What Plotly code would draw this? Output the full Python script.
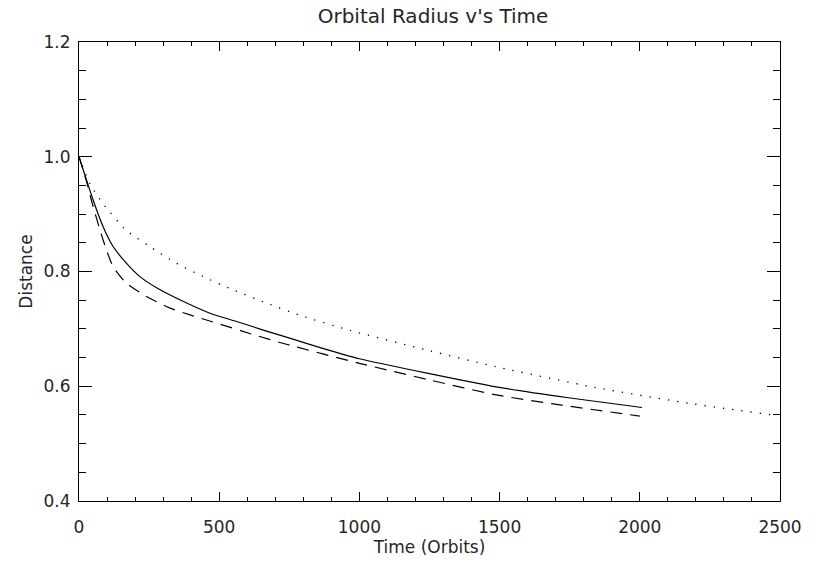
import plotly.graph_objects as go

# Solid curve
t_solid = [0, 25, 50, 86, 121, 168, 215, 286, 380, 474, 568, 663, 757, 863, 1000, 1250, 1487, 1745, 2008]
d_solid = [1.0, 0.962, 0.925, 0.878, 0.844, 0.815, 0.792, 0.769, 0.746, 0.726, 0.712, 0.697, 0.683, 0.667, 0.648, 0.622, 0.599, 0.580, 0.563]

# Dashed curve
t_dash = [0, 25, 51, 86, 121, 168, 239, 321, 404, 498, 615, 733, 1000, 1250, 1487, 1722, 2000]
d_dash = [1.0, 0.960, 0.912, 0.855, 0.809, 0.780, 0.757, 0.737, 0.723, 0.709, 0.691, 0.674, 0.640, 0.611, 0.585, 0.567, 0.548]

# Dotted curve
t_dot = [0, 39, 86, 168, 251, 345, 439, 545, 663, 792, 969, 1250, 1487, 1840, 2193, 2487]
d_dot = [1.0, 0.953, 0.918, 0.872, 0.844, 0.815, 0.792, 0.769, 0.746, 0.723, 0.697, 0.662, 0.634, 0.598, 0.569, 0.549]

x_ticks = [0, 500, 1000, 1500, 2000, 2500]
y_ticks = [0.4, 0.6, 0.8, 1.0, 1.2]

FONT = "DejaVu Sans"
TXT = "#262626"

fig = go.Figure()
fig.add_trace(go.Scatter(x=t_dot, y=d_dot, mode="lines", line=dict(color="black", width=1.3, dash="1.3px,8px", shape="spline", smoothing=0.6), showlegend=False))
fig.add_trace(go.Scatter(x=t_dash, y=d_dash, mode="lines", line=dict(color="black", width=1.2, dash="12px,8px", shape="spline", smoothing=0.6), showlegend=False))
fig.add_trace(go.Scatter(x=t_solid, y=d_solid, mode="lines", line=dict(color="black", width=1.2, shape="spline", smoothing=0.6), showlegend=False))

fig.update_layout(
    width=814, height=562,
    margin=dict(l=79, r=27, t=42, b=58),
    paper_bgcolor="white", plot_bgcolor="white",
    font=dict(family=FONT, size=17, color=TXT),
    title=dict(text="Orbital Radius v's Time", x=0.532, xanchor="center", y=1 - 16/562, yanchor="middle",
               font=dict(family=FONT, size=20, color=TXT)),
)
fig.update_xaxes(
    range=[0, 2500], tickvals=x_ticks, ticktext=[str(v) for v in x_ticks],
    showgrid=False, zeroline=False, showline=True, linecolor="black", linewidth=1, mirror="ticks",
    ticks="inside", ticklen=9, tickwidth=1, tickcolor="black",
    minor=dict(dtick=100, ticks="inside", ticklen=4, tickcolor="black", showgrid=False),
    ticklabelstandoff=11,
    title=dict(text="Time (Orbits)", standoff=1, font=dict(family=FONT, size=17, color=TXT)),
)
fig.update_yaxes(
    range=[0.4, 1.2], tickvals=y_ticks, ticktext=[f"{v:.1f}" for v in y_ticks],
    showgrid=False, zeroline=False, showline=True, linecolor="black", linewidth=1, mirror="ticks",
    ticks="inside", ticklen=13, tickwidth=1, tickcolor="black",
    minor=dict(dtick=0.05, ticks="inside", ticklen=7, tickcolor="black", showgrid=False),
    ticklabelstandoff=4,
    title=dict(text="Distance", standoff=6, font=dict(family=FONT, size=17, color=TXT)),
)

fig.write_html("out.html")
